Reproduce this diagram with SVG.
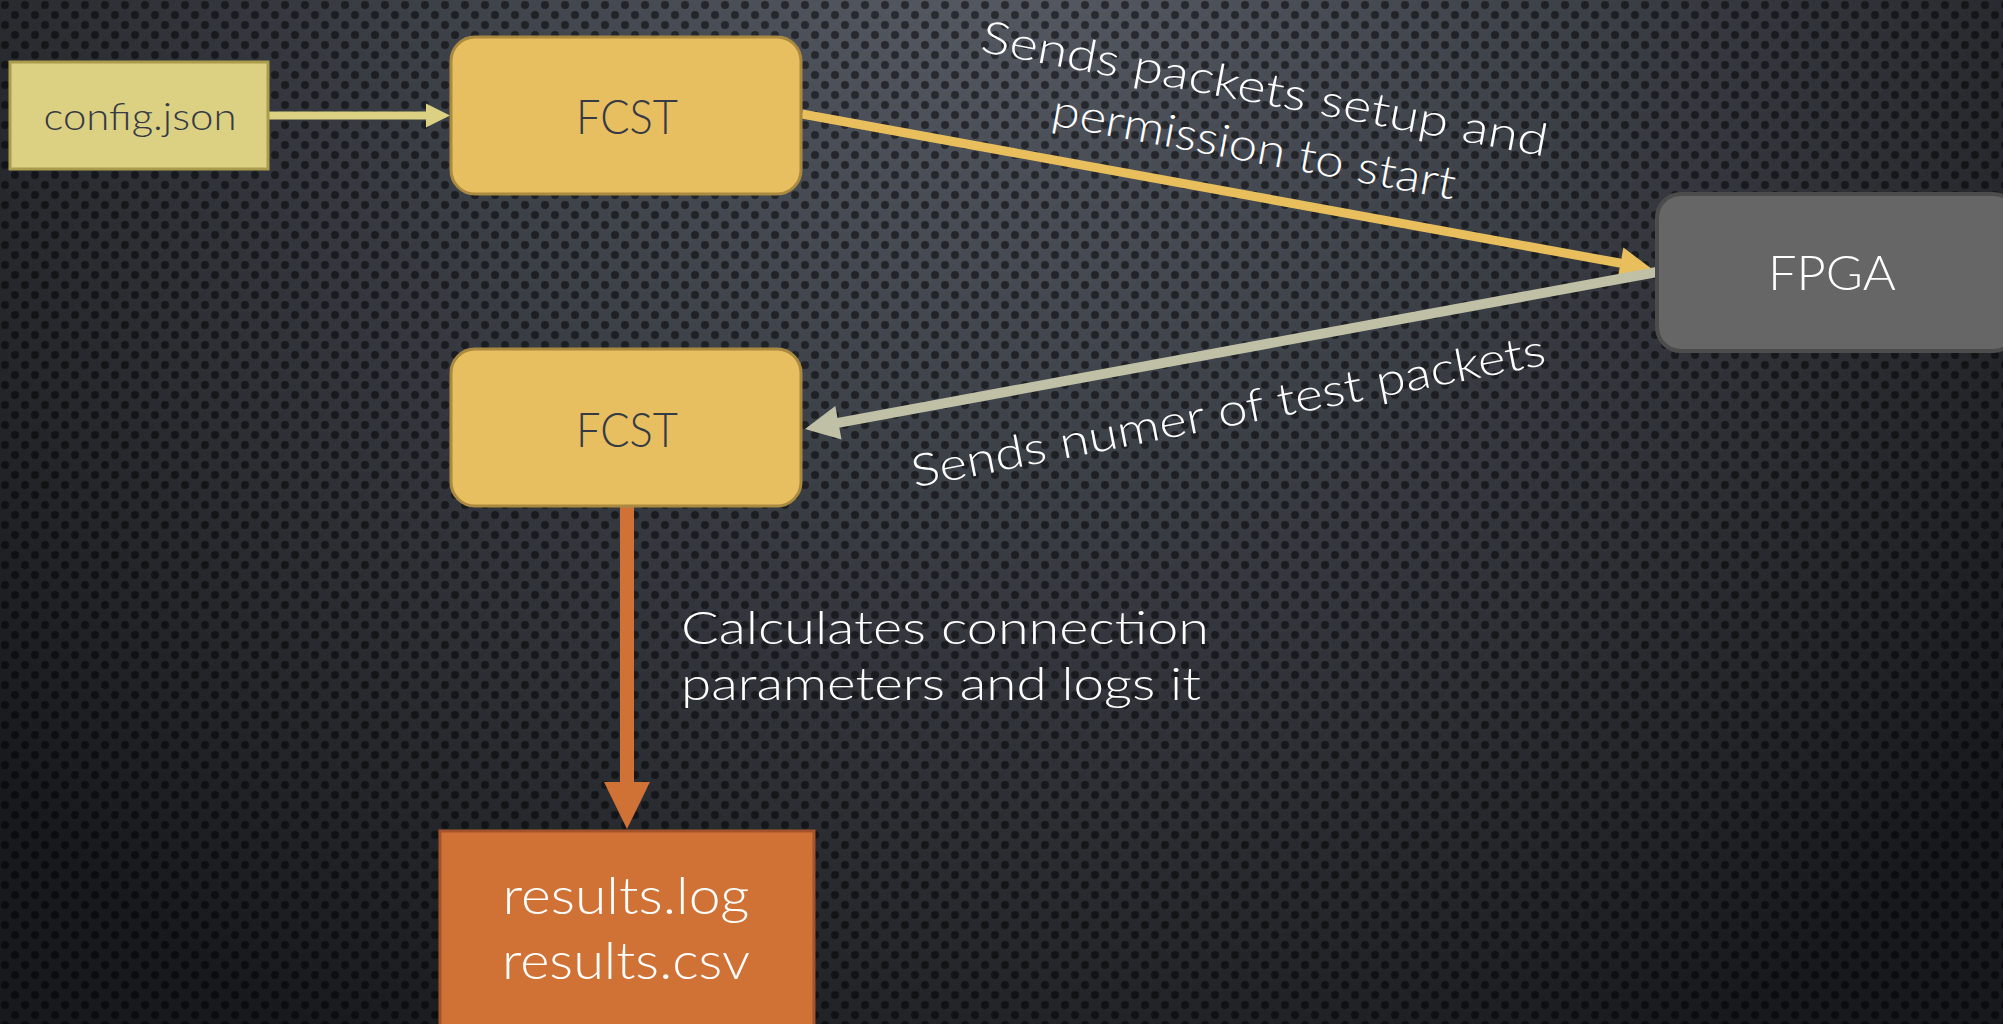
<svg xmlns="http://www.w3.org/2000/svg" width="2003" height="1024" viewBox="0 0 2003 1024">
  <defs>
    <radialGradient id="bg" cx="1000" cy="-120" r="1350" gradientUnits="userSpaceOnUse">
      <stop offset="0" stop-color="#585d67"/>
      <stop offset="0.45" stop-color="#3b3f46"/>
      <stop offset="1" stop-color="#18191c"/>
    </radialGradient>
    <pattern id="mesh" x="0" y="0" width="20" height="20" patternUnits="userSpaceOnUse">
      <ellipse cx="5" cy="5" rx="4" ry="4" fill="#000" fill-opacity="0.5"/>
      <ellipse cx="15" cy="15" rx="4" ry="4" fill="#000" fill-opacity="0.5"/>
    </pattern>
  </defs>
  <style>
    .t { font-family: Lato, "Open Sans", "DejaVu Sans", sans-serif; font-weight: 300; }
    .dark { fill: #353a45; }
    .white { fill: #ffffff; }
    .fcst { fill: #e8bf60; stroke: #a98a40; stroke-width: 3; }
  </style>

  <rect x="0" y="0" width="2003" height="1024" fill="url(#bg)"/>
  <rect x="0" y="0" width="2003" height="1024" fill="url(#mesh)"/>

  <g id="connectors">
    <!-- config -> FCST -->
    <line x1="268" y1="115.5" x2="428" y2="115.5" stroke="#dcd183" stroke-width="8"/>
    <polygon points="426,103.5 450,115.5 426,127.5" fill="#dcd183"/>
    <!-- FCST -> FPGA -->
    <line x1="802" y1="114" x2="1621" y2="263.3" stroke="#e8bf5c" stroke-width="9"/>
    <polygon points="1623.4,247.6 1652,269 1617.6,279" fill="#e8bf5c"/>
    <!-- FPGA -> FCST2 -->
    <line x1="1657" y1="272" x2="838" y2="422.8" stroke="#c0c0a6" stroke-width="10" stroke-linecap="round"/>
    <polygon points="835.3,406.1 805,429 841.5,439.5" fill="#c0c0a6"/>
    <!-- FCST2 -> results -->
    <line x1="627" y1="501" x2="627" y2="784" stroke="#d07236" stroke-width="14" stroke-linecap="round"/>
    <polygon points="604,782 650,782 627,829" fill="#d07236"/>

    <g id="label-setup" class="t white" font-size="45" text-anchor="middle" transform="translate(1262,104) rotate(10.5)">
      <text x="0" y="0" textLength="575" lengthAdjust="spacingAndGlyphs">Sends packets setup and</text>
      <text x="0" y="59" textLength="410" lengthAdjust="spacingAndGlyphs">permission to start</text>
    </g>
    <g id="label-number" class="t white" font-size="45" text-anchor="middle" transform="translate(1231,426) rotate(-11)">
      <text x="0" y="0" textLength="645" lengthAdjust="spacingAndGlyphs">Sends numer of test packets</text>
    </g>
    <g id="label-calc" class="t white" font-size="46">
      <text x="681" y="644" textLength="528" lengthAdjust="spacingAndGlyphs">Calculates connection</text>
      <text x="681" y="700" textLength="520" lengthAdjust="spacingAndGlyphs">parameters and logs it</text>
    </g>
  </g>

  <g id="config">
    <rect x="10" y="62" width="258" height="107" fill="#dcd183" stroke="#aa9c4c" stroke-width="3"/>
    <text class="t dark" x="140" y="130" font-size="37" text-anchor="middle" textLength="193" lengthAdjust="spacingAndGlyphs">config.json</text>
  </g>

  <g id="fcst1">
    <rect class="fcst" x="451" y="37" width="350" height="157" rx="24" ry="24"/>
    <text class="t dark" x="627" y="134" font-size="48" text-anchor="middle" textLength="102" lengthAdjust="spacingAndGlyphs">FCST</text>
  </g>

  <g id="fcst2">
    <rect class="fcst" x="451" y="349" width="350" height="157" rx="24" ry="24"/>
    <text class="t dark" x="627" y="447" font-size="48" text-anchor="middle" textLength="102" lengthAdjust="spacingAndGlyphs">FCST</text>
  </g>

  <g id="fpga">
    <rect x="1657" y="194" width="360" height="157" rx="24" ry="24" fill="#666666" stroke="#4c4c4c" stroke-width="4"/>
    <text class="t white" x="1832" y="290" font-size="47" text-anchor="middle" textLength="128" lengthAdjust="spacingAndGlyphs">FPGA</text>
  </g>

  <g id="results">
    <rect x="440" y="831" width="374" height="220" fill="#d07236" stroke="#a4532a" stroke-width="3"/>
    <text class="t white" x="626" y="914" font-size="51" text-anchor="middle" textLength="247" lengthAdjust="spacingAndGlyphs">results.log</text>
    <text class="t white" x="626" y="979" font-size="51" text-anchor="middle" textLength="248" lengthAdjust="spacingAndGlyphs">results.csv</text>
  </g>
</svg>
